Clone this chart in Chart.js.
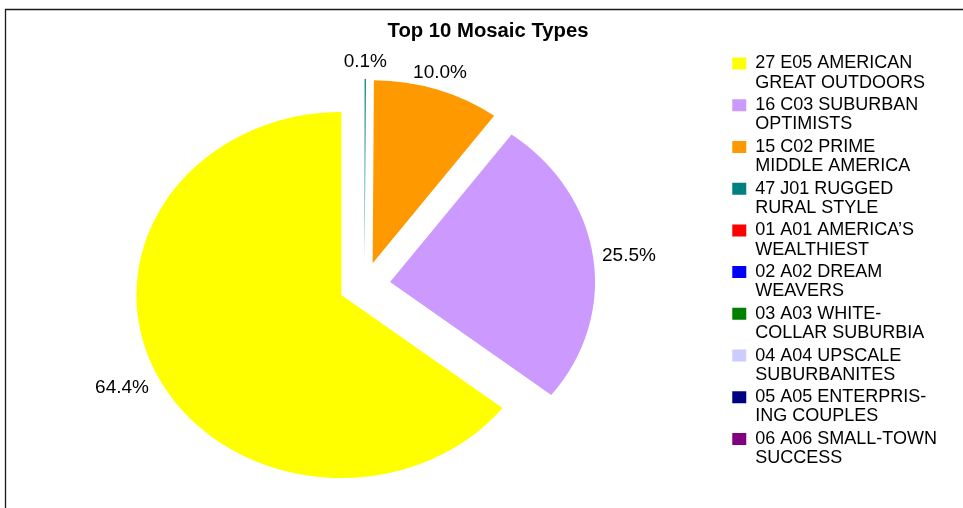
<!DOCTYPE html>
<html><head><meta charset="utf-8">
<script src="https://cdn.jsdelivr.net/npm/chart.js@4.4.1/dist/chart.umd.min.js"></script>
<style>html,body{margin:0;padding:0;background:#fff}canvas{display:block}</style>
</head><body>
<canvas id="c" width="963" height="508"></canvas>
<script>
// ---- data (legend order) ----
const titleText = 'Top 10 Mosaic Types';
const categories = [
  ['27 E05 AMERICAN', 'GREAT OUTDOORS'],
  ['16 C03 SUBURBAN', 'OPTIMISTS'],
  ['15 C02 PRIME', 'MIDDLE AMERICA'],
  ['47 J01 RUGGED', 'RURAL STYLE'],
  ['01 A01 AMERICA\u2019S', 'WEALTHIEST'],
  ['02 A02 DREAM', 'WEAVERS'],
  ['03 A03 WHITE-', 'COLLAR SUBURBIA'],
  ['04 A04 UPSCALE', 'SUBURBANITES'],
  ['05 A05 ENTERPRIS-', 'ING COUPLES'],
  ['06 A06 SMALL-TOWN', 'SUCCESS']
];
const shares = [64.4, 25.5, 10.0, 0.1, 0, 0, 0, 0, 0, 0];
const colors = ['#FFFF00', '#CC99FF', '#FF9900', '#008080', '#FF0000', '#0000FF', '#008000', '#CCCCFF', '#000080', '#800080'];

// ---- style ----
const FONT = '"Liberation Sans", Arial, sans-serif';
const SX = 1.12;      // horizontal stretch of the pie (Excel aspect)
const EXPLODE = 23;   // explosion distance
const GAP = 8;        // label gap from arc

// The source pie runs counter-clockwise from 12 o'clock, so feed the library the reversed order
const pieLabels = categories.slice().reverse();
const pieValues = shares.slice().reverse();
const pieColors = colors.slice().reverse();

const clamp01 = v => Math.max(0, Math.min(1, v));

const pieStyle = {
  id: 'pieStyle',
  beforeDraw(chart) {
    const ctx = chart.ctx;
    ctx.save();
    ctx.strokeStyle = '#1a1a1a';
    ctx.lineWidth = 1.3;
    ctx.beginPath();
    ctx.moveTo(5.5, chart.height);
    ctx.lineTo(5.5, 9.5);
    ctx.lineTo(chart.width, 9.5);
    ctx.stroke();
    ctx.fillStyle = '#000';
    ctx.font = 'bold 20.3px ' + FONT;
    ctx.textAlign = 'center';
    ctx.textBaseline = 'alphabetic';
    ctx.fillText(titleText, 488, 36.8);
    ctx.restore();
  },
  beforeDatasetDraw(chart, args) {
    const ctx = chart.ctx;
    args.meta.data.forEach(arc => {
      if (!(arc.circumference > 0)) return;
      const mid = (arc.startAngle + arc.endAngle) / 2;
      ctx.save();
      ctx.translate(arc.x, arc.y);
      ctx.scale(SX, 1);
      ctx.translate(-arc.x, -arc.y);
      ctx.translate(Math.cos(mid) * EXPLODE, Math.sin(mid) * EXPLODE);
      arc.draw(ctx);
      ctx.restore();
    });
    return false;
  },
  afterDatasetsDraw(chart) {
    const ctx = chart.ctx;
    const meta = chart.getDatasetMeta(0);
    const vals = chart.data.datasets[0].data;
    ctx.save();
    ctx.font = '19px ' + FONT;
    ctx.fillStyle = '#000';
    ctx.textAlign = 'center';
    ctx.textBaseline = 'middle';
    meta.data.forEach((arc, i) => {
      const v = vals[i];
      if (!(v > 0)) return;
      const mid = (arc.startAngle + arc.endAngle) / 2;
      const c = Math.cos(mid), s = Math.sin(mid);
      const R = EXPLODE + arc.outerRadius + GAP;
      const ax = arc.x + SX * R * c, ay = arc.y + R * s;
      let ux = SX * c, uy = s;
      const n = Math.hypot(ux, uy); ux /= n; uy /= n;
      const txt = v.toFixed(1) + '%';
      const hw = ctx.measureText(txt).width / 2, hh = 9;
      const px = hw * Math.sign(ux) * clamp01((Math.abs(ux) - 0.4) / 0.4);
      const py = hh * Math.sign(uy) * clamp01((Math.abs(uy) - 0.12) / 0.25);
      ctx.fillText(txt, ax + px, ay + py);
    });
    ctx.restore();
  }
};

new Chart(document.getElementById('c'), {
  type: 'pie',
  data: {
    labels: pieLabels,
    datasets: [{
      data: pieValues,
      backgroundColor: pieColors,
      borderWidth: 0,
      radius: 183
    }]
  },
  options: {
    responsive: false,
    animation: false,
    layout: { padding: { left: 0, right: 16, top: 51.3, bottom: 0 } },
    plugins: {
      // empty title block: only reserves the band between legend top and pie area
      title: { display: true, text: '', padding: 0, font: { size: 10.7, lineHeight: 1 } },
      tooltip: { enabled: false },
      legend: {
        position: 'right',
        align: 'start',
        labels: {
          boxWidth: 14,
          boxHeight: 12,
          padding: 3.2,
          color: '#000',
          font: { family: FONT, size: 18, lineHeight: 1.07 },
          sort: (a, b) => b.index - a.index
        }
      }
    }
  },
  plugins: [pieStyle]
});
</script>
</body></html>
